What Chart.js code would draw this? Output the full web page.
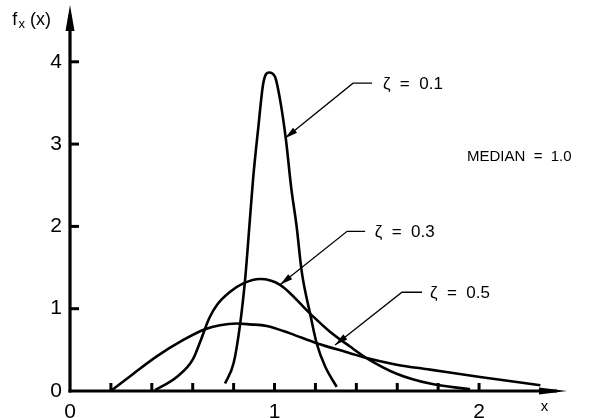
<!DOCTYPE html>
<html>
<head>
<meta charset="utf-8">
<script src="https://cdn.jsdelivr.net/npm/chart.js@4.4.1/dist/chart.umd.min.js"></script>
<style>
html,body{margin:0;padding:0;background:#fff;}
canvas{display:block;}
</style>
</head>
<body>
<canvas id="c" width="603" height="418"></canvas>
<script>
// Series (x, f_X(x))
const zeta01X = [0.758, 0.80, 0.83, 0.856, 0.877, 0.896, 0.921, 0.945, 0.973, 1.002, 1.027, 1.056, 1.081, 1.108, 1.133, 1.174, 1.206, 1.247, 1.304];
const zeta01Y = [0.09, 0.34, 0.78, 1.35, 2.0, 2.60, 3.21, 3.74, 3.87, 3.82, 3.54, 3.05, 2.48, 2.0, 1.45, 0.94, 0.58, 0.30, 0.05];

const zeta03X = [0.416, 0.522, 0.60, 0.64, 0.68, 0.72, 0.78, 0.85, 0.929, 1.027, 1.174, 1.271, 1.369, 1.45, 1.597, 1.760, 1.956];
const zeta03Y = [0.01, 0.17, 0.38, 0.62, 0.88, 1.05, 1.20, 1.31, 1.36, 1.29, 0.94, 0.72, 0.54, 0.40, 0.21, 0.09, 0.02];

const zeta05X = [0.204, 0.31, 0.424, 0.554, 0.660, 0.733, 0.815, 0.880, 0.962, 1.076, 1.206, 1.369, 1.45, 1.597, 1.76, 2.005, 2.30];
const zeta05Y = [0.01, 0.21, 0.42, 0.62, 0.75, 0.80, 0.82, 0.81, 0.79, 0.70, 0.58, 0.46, 0.40, 0.32, 0.26, 0.17, 0.07];

const xTickLabels = [0, 1, 2];
const xMinorTicks = [0.2, 0.4, 0.6, 0.8, 1.0, 1.2, 1.4, 1.6, 1.8, 2.0];
const yTickLabels = [0, 1, 2, 3, 4];

// Annotations (data coordinates)
const curveLabels = [
  {text: 'ζ  =  0.1', x: 1.53, y: 3.73, hx0: 1.384, hx1: 1.477, hy: 3.74, tx: 1.051, ty: 3.07},
  {text: 'ζ  =  0.3', x: 1.49, y: 1.93, hx0: 1.355, hx1: 1.443, hy: 1.94, tx: 1.027, ty: 1.29},
  {text: 'ζ  =  0.5', x: 1.76, y: 1.19, hx0: 1.623, hx1: 1.721, hy: 1.20, tx: 1.296, ty: 0.56}
];
const medianText = 'MEDIAN  =  1.0';

function pts(xs, ys){ return xs.map((x,i)=>({x:x, y:ys[i]})); }

const FONT = '"Liberation Sans", Arial, sans-serif';

const decor = {
  id: 'decor',
  afterDraw(chart){
    const ctx = chart.ctx;
    const xs = chart.scales.x, ys = chart.scales.y;
    const X = v => xs.getPixelForValue(v), Y = v => ys.getPixelForValue(v);
    const x0 = X(0), y0 = Y(0);
    const top = chart.chartArea.top, right = chart.chartArea.right;
    ctx.save();
    ctx.strokeStyle = '#000'; ctx.fillStyle = '#000';
    // axes
    ctx.lineWidth = 3.2;
    ctx.beginPath(); ctx.moveTo(x0, y0+1.5); ctx.lineTo(x0, top+10); ctx.stroke();
    ctx.beginPath(); ctx.moveTo(x0-1.5, y0); ctx.lineTo(right-10, y0); ctx.stroke();
    // arrowheads
    ctx.beginPath(); ctx.moveTo(x0, top); ctx.lineTo(x0-4.5, top+26); ctx.lineTo(x0+4.5, top+26); ctx.closePath(); ctx.fill();
    ctx.beginPath(); ctx.moveTo(right, y0); ctx.lineTo(right-28, y0-3.5); ctx.lineTo(right-28, y0+3.5); ctx.closePath(); ctx.fill();
    // ticks
    ctx.lineWidth = 3;
    xMinorTicks.forEach(v=>{ ctx.beginPath(); ctx.moveTo(X(v), y0); ctx.lineTo(X(v), y0-8); ctx.stroke(); });
    yTickLabels.slice(1).forEach(v=>{ ctx.beginPath(); ctx.moveTo(x0, Y(v)); ctx.lineTo(x0+9, Y(v)); ctx.stroke(); });
    // leader lines
    ctx.lineWidth = 1.3;
    ctx.font = '17px ' + FONT;
    ctx.textBaseline = 'middle'; ctx.textAlign = 'left';
    curveLabels.forEach(l=>{
      const hx0 = X(l.hx0), hx1 = X(l.hx1), hy = Y(l.hy), tx = X(l.tx), ty = Y(l.ty);
      ctx.beginPath(); ctx.moveTo(hx1, hy); ctx.lineTo(hx0, hy); ctx.lineTo(tx, ty); ctx.stroke();
      const ang = Math.atan2(ty-hy, tx-hx0);
      const L = 13, W = 3.2;
      ctx.beginPath();
      ctx.moveTo(tx, ty);
      ctx.lineTo(tx - L*Math.cos(ang) + W*Math.sin(ang), ty - L*Math.sin(ang) - W*Math.cos(ang));
      ctx.lineTo(tx - L*Math.cos(ang) - W*Math.sin(ang), ty - L*Math.sin(ang) + W*Math.cos(ang));
      ctx.closePath(); ctx.fill();
      ctx.fillText(l.text, X(l.x), Y(l.y));
    });
    ctx.font = '15px ' + FONT;
    ctx.fillText(medianText, X(1.941), Y(2.84));
    // axis titles
    ctx.font = '18px ' + FONT;
    ctx.fillText('f', X(-0.282), Y(4.51));
    ctx.font = '13px ' + FONT;
    ctx.fillText('x', X(-0.252), Y(4.45));
    ctx.font = '18px ' + FONT;
    ctx.fillText('(x)', X(-0.195), Y(4.51));
    ctx.font = '15px ' + FONT;
    ctx.textAlign = 'center';
    ctx.fillText('x', X(2.32), Y(-0.19));
    ctx.restore();
  }
};

function noPad(s){ s.paddingTop = 0; s.paddingBottom = 0; s.paddingLeft = 0; s.paddingRight = 0; }

new Chart(document.getElementById('c'), {
  type: 'scatter',
  data: {
    datasets: [
      {label: 'ζ = 0.1', data: pts(zeta01X, zeta01Y)},
      {label: 'ζ = 0.3', data: pts(zeta03X, zeta03Y)},
      {label: 'ζ = 0.5', data: pts(zeta05X, zeta05Y)}
    ].map(d=>Object.assign(d, {showLine: true, pointRadius: 0, borderColor: '#000', borderWidth: 2.6, cubicInterpolationMode: 'monotone', fill: false}))
  },
  options: {
    responsive: false,
    animation: false,
    events: [],
    layout: {padding: {top: 5, right: 36, left: 0, bottom: 0}},
    plugins: {legend: {display: false}, tooltip: {enabled: false}},
    scales: {
      x: {
        type: 'linear', min: 0, max: 2.43,
        grid: {display: false, drawTicks: false},
        border: {display: false},
        afterFit: s => { s.height = 27; noPad(s); },
        afterBuildTicks: s => { s.ticks = xTickLabels.map(v=>({value: v})); },
        ticks: {font: {size: 21, family: FONT}, color: '#000', padding: 9, maxRotation: 0}
      },
      y: {
        type: 'linear', min: 0, max: 4.69,
        grid: {display: false, drawTicks: false},
        border: {display: false},
        afterFit: s => { s.width = 70; noPad(s); },
        afterBuildTicks: s => { s.ticks = yTickLabels.map(v=>({value: v})); },
        ticks: {font: {size: 21, family: FONT}, color: '#000', padding: 8}
      }
    }
  },
  plugins: [decor]
});
</script>
</body>
</html>
